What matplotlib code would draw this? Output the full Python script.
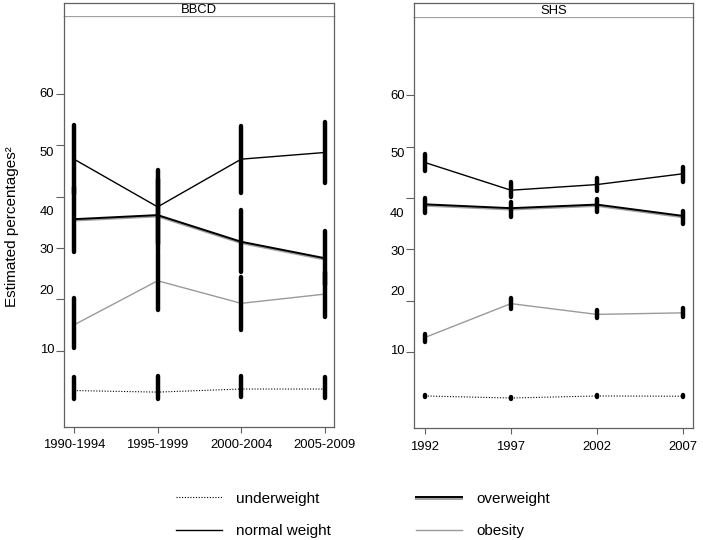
import numpy as np
import matplotlib
matplotlib.use("Agg")
import matplotlib.pyplot as plt
import matplotlib.patheffects as pe

plt.rcParams['font.family'] = ['Liberation Sans', 'DejaVu Sans']

# BBCD panel (periods)
bbcd_periods = ['1990-1994', '1995-1999', '2000-2004', '2005-2009']
bbcd_under = [2.2, 1.9, 2.5, 2.5]
bbcd_under_lo = [0.6, 0.5, 0.9, 0.8]
bbcd_under_hi = [4.9, 5.1, 5.1, 4.9]
bbcd_normal = [47.3, 38.0, 47.3, 48.6]
bbcd_normal_lo = [40.6, 30.8, 40.8, 42.7]
bbcd_normal_hi = [54.0, 45.2, 53.8, 54.5]
bbcd_over = [35.6, 36.4, 31.2, 28.0]
bbcd_over_lo = [29.3, 29.4, 25.4, 22.7]
bbcd_over_hi = [41.9, 43.4, 37.4, 33.3]
bbcd_obese = [15.0, 23.6, 19.2, 21.0]
bbcd_obese_lo = [10.4, 17.9, 14.0, 16.6]
bbcd_obese_hi = [20.3, 29.2, 24.4, 25.4]

# SHS panel (survey years)
shs_years = [1992, 1997, 2002, 2007]
shs_under = [1.4, 1.0, 1.4, 1.35]
shs_under_lo = [1.2, 0.8, 1.2, 1.15]
shs_under_hi = [1.6, 1.2, 1.6, 1.55]
shs_normal = [46.9, 41.5, 42.6, 44.7]
shs_normal_lo = [45.2, 40.1, 41.3, 43.1]
shs_normal_hi = [48.5, 43.1, 43.9, 46.0]
shs_over = [38.75, 38.0, 38.7, 36.5]
shs_over_lo = [37.1, 36.2, 37.3, 34.9]
shs_over_hi = [39.9, 39.2, 39.7, 37.4]
shs_obese = [12.8, 19.4, 17.3, 17.6]
shs_obese_lo = [11.9, 18.4, 16.6, 16.8]
shs_obese_hi = [13.5, 20.4, 18.1, 18.6]

yticks = [10, 20, 30, 40, 50, 60]
ytick_labels = ['10', '20', '30', '40', '50', '60']
# the printed labels sit a little off their tick marks in the original
ylabel_pos = [10.4, 21.9, 29.8, 37.2, 48.8, 60.2]

frame_col = '#606060'
shadow = [pe.SimpleLineShadow(offset=(0, -1.0), shadow_color='#a0a0a0', alpha=1, rho=1),
          pe.Normal()]

fig = plt.figure(figsize=(7.03, 5.40), dpi=100)


def panel(rect, strip_rect, title, x, xlabels, xlim, series):
    ax = fig.add_axes(rect)
    under, normal, over, obese = series
    for (v, lo, hi) in series:
        ax.vlines(x, lo, hi, color='black', lw=3.2, capstyle='round', zorder=3)
    ax.plot(x, under[0], color='black', lw=0.8, ls=(0, (1, 1.5)), label='underweight')
    ax.plot(x, normal[0], color='black', lw=1.0, label='normal weight')
    ax.plot(x, over[0], color='black', lw=1.4, label='overweight', path_effects=shadow)
    ax.plot(x, obese[0], color='#9a9a9a', lw=1.0, label='obesity')

    ax.set_xlim(*xlim)
    ax.set_ylim(-4.9, 75.2)
    ax.set_xticks(x)
    ax.set_xticklabels(xlabels, fontsize=9.4)
    ax.tick_params(axis='x', length=4, width=0.8, color=frame_col, pad=5)
    ax.set_yticks(yticks)
    ax.set_yticklabels([])
    ax.set_yticks(ylabel_pos, minor=True)
    ax.set_yticklabels(ytick_labels, minor=True, fontsize=9.4)
    ax.tick_params(axis='y', which='major', length=5.5, width=0.8, color=frame_col)
    ax.tick_params(axis='y', which='minor', length=0, pad=7)
    for s in ['left', 'bottom', 'right']:
        ax.spines[s].set_color(frame_col)
        ax.spines[s].set_linewidth(0.9)
    ax.spines['top'].set_color('#a0a0a0')
    ax.spines['top'].set_linewidth(0.9)

    # strip with the panel name
    st = fig.add_axes(strip_rect)
    st.set_xticks([])
    st.set_yticks([])
    for name, sp in st.spines.items():
        sp.set_color(frame_col)
        sp.set_linewidth(0.9)
    st.spines['bottom'].set_visible(False)
    st.text(0.5, 0.42, title, ha='center', va='center', fontsize=9.4, transform=st.transAxes)
    return ax


bbcd_x = np.arange(1, 5)
ax1 = panel([64 / 703, 1 - 427 / 540, 270 / 703, 411 / 540],
            [64 / 703, 1 - 16 / 540, 270 / 703, 13.3 / 540],
            'BBCD', bbcd_x, bbcd_periods, (0.88, 4.11),
            [(bbcd_under, bbcd_under_lo, bbcd_under_hi),
             (bbcd_normal, bbcd_normal_lo, bbcd_normal_hi),
             (bbcd_over, bbcd_over_lo, bbcd_over_hi),
             (bbcd_obese, bbcd_obese_lo, bbcd_obese_hi)])

ax2 = panel([414.3 / 703, 1 - 428.3 / 540, 278.4 / 703, 411 / 540],
            [414.3 / 703, 1 - 17.3 / 540, 278.4 / 703, 14 / 540],
            'SHS', shs_years, [str(y) for y in shs_years], (1991.38, 2007.58),
            [(shs_under, shs_under_lo, shs_under_hi),
             (shs_normal, shs_normal_lo, shs_normal_hi),
             (shs_over, shs_over_lo, shs_over_hi),
             (shs_obese, shs_obese_lo, shs_obese_hi)])

fig.text(11.7 / 703, 1 - 227 / 540, 'Estimated percentages²', rotation=90,
         ha='center', va='center', fontsize=11)

handles, labels = ax1.get_legend_handles_labels()
fig.legend(handles, labels, loc='center', bbox_to_anchor=(363 / 703, 1 - 515 / 540),
           ncol=2, frameon=False, fontsize=11, borderpad=0, handlelength=3.0,
           handletextpad=0.92, columnspacing=5.6, labelspacing=1.2)

fig.savefig('out.png', dpi=100)
